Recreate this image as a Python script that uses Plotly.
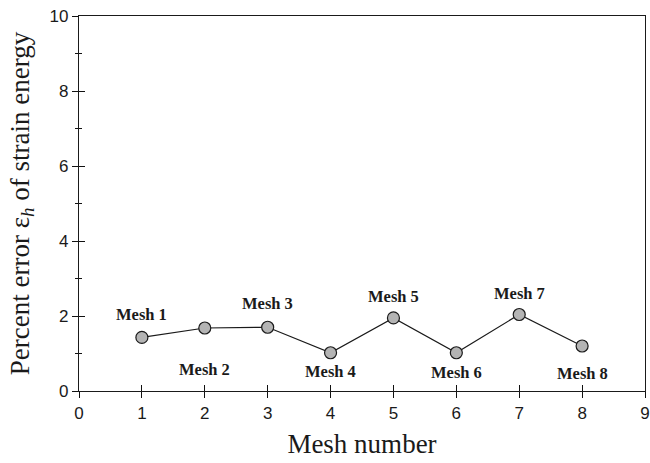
import plotly.graph_objects as go

mesh = [1, 2, 3, 4, 5, 6, 7, 8]
error_pct = [1.43, 1.68, 1.70, 1.02, 1.95, 1.02, 2.04, 1.20]
labels = ["Mesh 1", "Mesh 2", "Mesh 3", "Mesh 4", "Mesh 5", "Mesh 6", "Mesh 7", "Mesh 8"]
label_shift = [23, -41, 24, -19, 21, -20, 21, -27]

fig = go.Figure()
fig.add_trace(go.Scatter(
    x=mesh, y=error_pct, mode="lines+markers",
    line=dict(color="#1a1a1a", width=1.2),
    marker=dict(size=12, color="#b4b4b4", line=dict(color="#1a1a1a", width=1.2)),
    showlegend=False, hoverinfo="skip",
))
# invisible trace for the inside-tick axes
fig.add_trace(go.Scatter(x=[0], y=[0], xaxis="x2", yaxis="y2", mode="markers",
                         marker=dict(opacity=0), showlegend=False, hoverinfo="skip"))

for xv, yv, t, s in zip(mesh, error_pct, labels, label_shift):
    fig.add_annotation(x=xv, y=yv, text=f"<b>{t}</b>", showarrow=False, yshift=s,
                       font=dict(family="Liberation Serif", size=16.5, color="#1a1a1a"))

tickfont = dict(family="Liberation Sans", size=17, color="#1a1a1a")
common = dict(showgrid=False, zeroline=False, tickcolor="#111111", tickwidth=1.3)

fig.update_layout(
    width=650, height=463,
    margin=dict(l=79, r=5, t=16, b=72),
    paper_bgcolor="white", plot_bgcolor="white",
    xaxis=dict(range=[0, 9], dtick=1, tick0=0, ticks="outside", ticklen=6,
               showline=True, linecolor="#1a1a1a", linewidth=1.2, mirror=True,
               tickfont=tickfont, automargin=False,
               title=dict(text="Mesh number", standoff=12,
                          font=dict(family="Liberation Serif", size=27, color="#1a1a1a")),
               **common),
    yaxis=dict(range=[0, 10], dtick=2, tick0=0, ticks="outside", ticklen=6,
               showline=True, linecolor="#1a1a1a", linewidth=1.2, mirror=True,
               tickfont=tickfont, automargin=False,
               minor=dict(dtick=1, ticks="outside", ticklen=3, tickcolor="#111111", tickwidth=1.3),
               title=dict(text="Percent error ε<sub><i>h</i></sub> of strain energy", standoff=12,
                          font=dict(family="Liberation Serif", size=27, color="#1a1a1a")),
               **common),
    xaxis2=dict(range=[0, 9], dtick=1, tick0=0, ticks="inside", ticklen=6, overlaying="x",
                showticklabels=False, showline=False, automargin=False, **common),
    yaxis2=dict(range=[0, 10], dtick=2, tick0=0, ticks="inside", ticklen=6, overlaying="y",
                showticklabels=False, showline=False, automargin=False,
                minor=dict(dtick=1, ticks="inside", ticklen=3, tickcolor="#111111", tickwidth=1.3),
                **common),
)

fig.write_html("out.html")
